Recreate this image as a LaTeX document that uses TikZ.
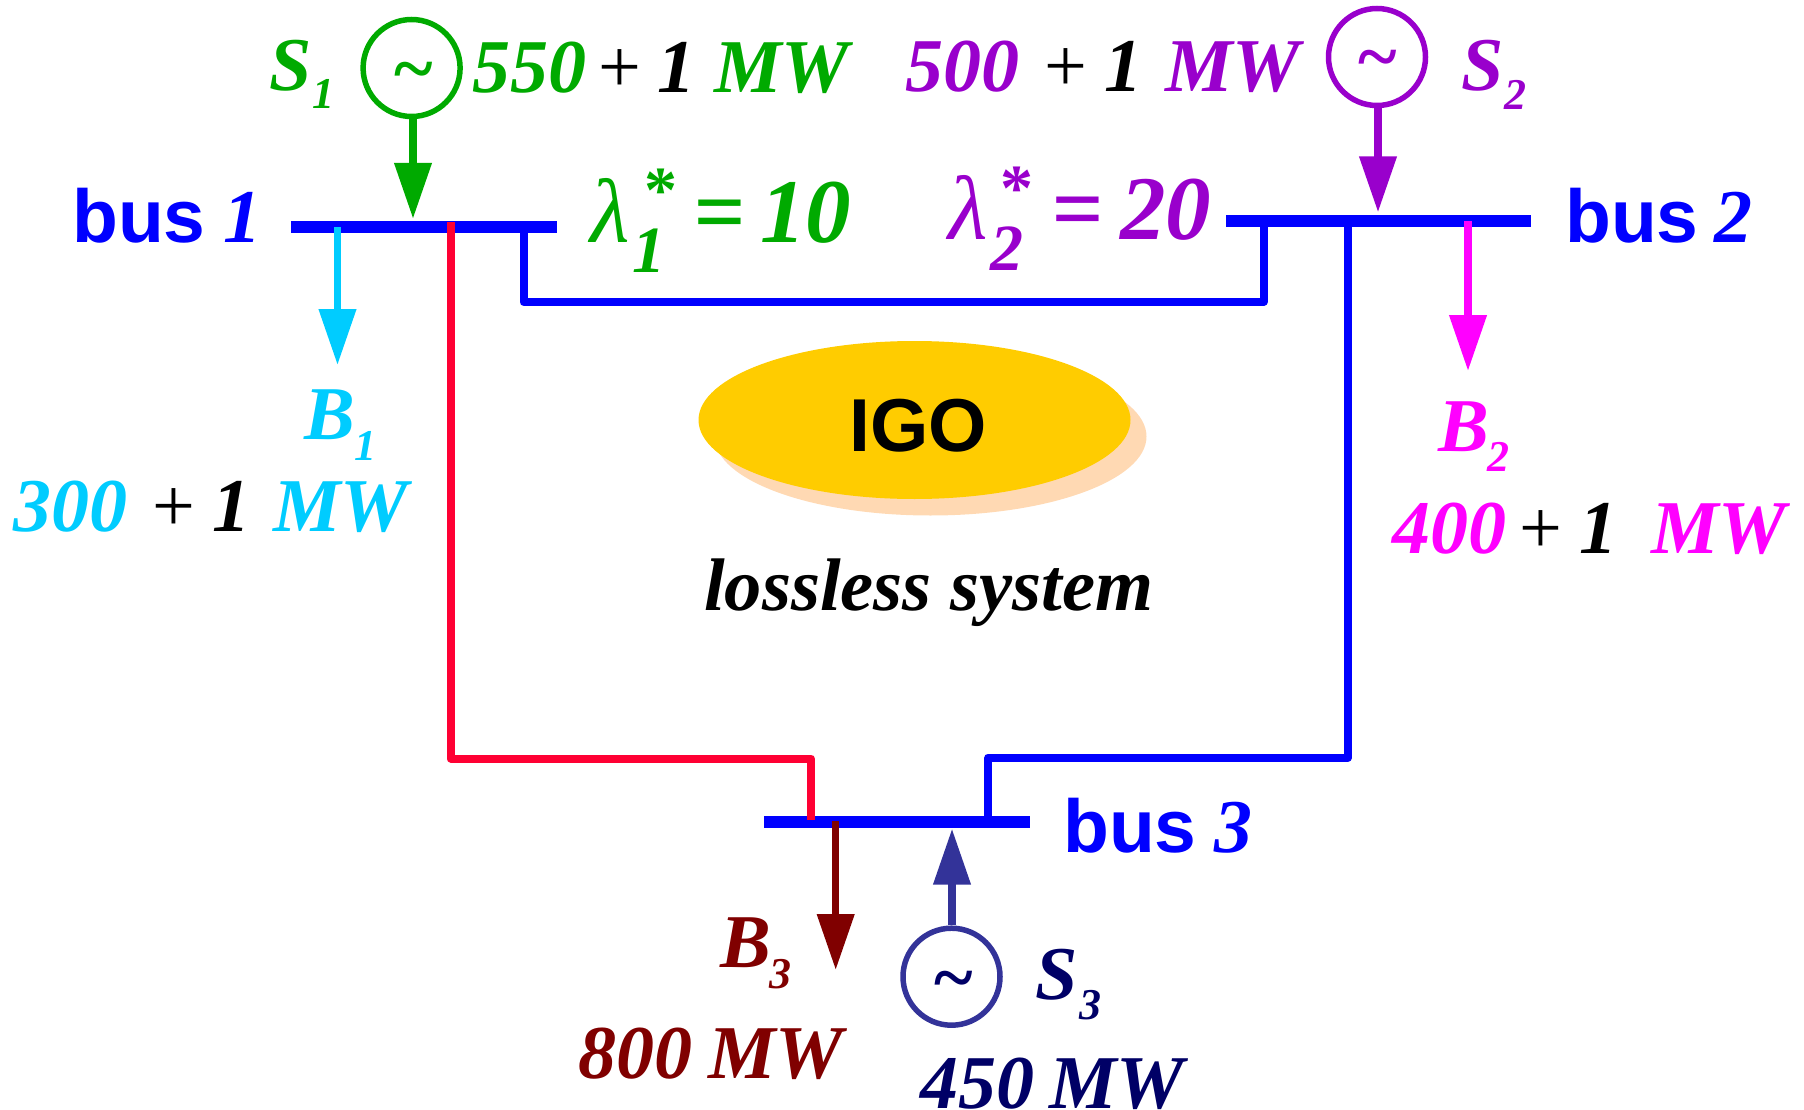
\documentclass[tikz,border=0pt]{standalone}
\usepackage{fontspec}
\usetikzlibrary{arrows.meta,shapes.geometric}
\setmainfont{Liberation Serif}
\newfontfamily\sansfam{Liberation Sans}
\definecolor{cgreen}{HTML}{00AA00}
\definecolor{cpurple}{HTML}{9900CC}
\definecolor{ccyan}{HTML}{00CCFF}
\definecolor{cmag}{HTML}{FF00FF}
\definecolor{cblue}{HTML}{0000FF}
\definecolor{cred}{HTML}{FF0033}
\definecolor{cdark}{HTML}{800000}
\definecolor{cgen}{HTML}{333399}
\definecolor{cnavy}{HTML}{000066}
\definecolor{cyel}{HTML}{FFCC00}
\definecolor{cpeach}{HTML}{FFD9B3}
\tikzset{
  lbl/.style={inner sep=0pt,anchor=base west},
  big/.style={lbl,font=\bfseries\itshape\fontsize{76}{80}\selectfont},
  subs/.style={lbl,font=\bfseries\itshape\fontsize{44}{50}\selectfont},
  lam/.style={lbl,font=\bfseries\itshape\fontsize{91}{95}\selectfont},
  lamthin/.style={lbl,font=\itshape\fontsize{91}{95}\selectfont},
  lamsub/.style={lbl,font=\bfseries\itshape\fontsize{66}{70}\selectfont},
  star/.style={lbl,font=\bfseries\fontsize{66}{70}\selectfont},
  plus/.style={lbl,black,font=\fontsize{76}{80}\selectfont},
  busname/.style={lbl,font=\sansfam\bfseries\fontsize{75}{80}\selectfont},
  busbar/.style={draw=none,fill=cblue,inner sep=0pt,minimum height=12pt},
  gen/.style={draw,circle,line width=5.5pt,minimum size=97pt,inner sep=0pt,outer sep=2.75pt},
  tild/.style={lbl,anchor=base,font=\bfseries\fontsize{74}{78}\selectfont},
  flow/.style={line width=7.5pt,-{Triangle[width=36pt,length=56pt]}},
  wire/.style={line width=8pt,line join=round}
}
\begin{document}
\begin{tikzpicture}[x=1pt,y=-1pt]
\useasboundingbox (0,0) rectangle (1804,1110);
% IGO
\node[draw=none,fill=cpeach,ellipse,minimum width=432pt,minimum height=158pt,inner sep=0pt] (igoshadow) at (930.5,436.5) {};
\node[draw=none,fill=cyel,ellipse,minimum width=432pt,minimum height=158pt,inner sep=0pt] (igo) at (914.5,420) {};
\node[lbl,anchor=base,font=\sansfam\bfseries\fontsize{75}{80}\selectfont] (igot) at (918.5,451) {IGO};
\node[lbl,font=\bfseries\itshape\fontsize{74.5}{80}\selectfont] (lossless) at (704,610) {lossless system};
% buses
\node[busbar,minimum width=266pt] (bus1) at (424,227) {};
\node[busbar,minimum width=305pt] (bus2) at (1378.5,221.5) {};
\node[busbar,minimum width=266pt] (bus3) at (897,821.5) {};
% tap coordinates
\coordinate (t1a) at (523.5,227);
\coordinate (t1b) at (450.6,222);
\coordinate (t1c) at (337.5,227);
\coordinate (t2a) at (1263.5,221);
\coordinate (t2b) at (1348,221);
\coordinate (t2c) at (1468,221);
\coordinate (t3a) at (811,820);
\coordinate (t3b) at (988.4,821);
\coordinate (t3c) at (835.7,821);
% lines
\draw[wire,cblue] (t1a) -- (t1a |- 0,302) -- (t2a |- 0,302) -- (t2a);
\draw[wire,cblue] (t2b) -- (t2b |- 0,757.5) -- (t3b |- 0,757.5) -- (t3b);
\draw[wire,cred] (t1b) -- (t1b |- 0,758.5) -- (t3a |- 0,758.5) -- (t3a);
% generators
\node[gen,cgreen] (s1) at (411.6,68) {};
\node[gen,cpurple] (s2) at (1377,57) {};
\node[gen,cgen] (s3) at (951.5,976.7) {};
\node[tild,cgreen] (til1) at (414,94) {\char`\~};
\node[tild,cpurple] (til2) at (1378,82) {\char`\~};
\node[tild,cnavy] (til3) at (954,1002) {\char`\~};
% flows
\coordinate (lb1) at (337.5,365);
\coordinate (lb2) at (1468,371);
\coordinate (lb3) at (835.7,970);
\draw[flow,cgreen] ([xshift=1.4pt]s1.south) -- ([xshift=1.4pt,yshift=2pt]s1.south |- bus1.north);
\draw[flow,cpurple] ([xshift=1pt]s2.south) -- ([xshift=1pt,yshift=3pt]s2.south |- bus2.north);
\draw[flow,cgen] ([xshift=.5pt]s3.north) -- ([xshift=.5pt,yshift=-1pt]s3.north |- bus3.south);
\draw[flow,ccyan] (t1c) -- (lb1);
\draw[flow,cmag] (t2c) -- (lb2);
\draw[flow,cdark] (t3c) -- (lb3);
% S1 text
\node[big,cgreen] (S1a) at (269,91) {S};
\node[subs,cgreen] (S1b) at (312,109) {1};
\node[big,cgreen] (S1c) at (472,93) {550};
\node[plus] (S1d) at (598,93) {+};
\node[big] (S1e) at (657,93) {1};
\node[big,cgreen] (S1f) at (714,93) {MW};
% S2 text
\node[big,cpurple] (S2c) at (905,92) {500};
\node[plus] (S2d) at (1044,92) {+};
\node[big] (S2e) at (1104,92) {1};
\node[big,cpurple] (S2f) at (1165,92) {MW};
\node[big,cpurple] (S2a) at (1461,91) {S};
\node[subs,cpurple] (S2b) at (1504,110) {2};
% bus labels
\node[busname,cblue] (b1n) at (72,242) {bus};
\node[big,cblue] (b1i) at (223,242) {1};
\node[busname,cblue] (b2n) at (1565,242) {bus};
\node[big,cblue] (b2i) at (1714,242) {2};
\node[busname,cblue] (b3n) at (1063,852) {bus};
\node[big,cblue] (b3i) at (1214,852) {3};
% lambda 1
\node[lamthin,cgreen] (l1a) at (590,242) {λ};
\node[lamsub,cgreen] (l1b) at (632,272) {1};
\node[star,cgreen] (l1s) at (644,212) {*};
\node[lam,cgreen,anchor=base] (l1c) at (719,242) {=};
\node[lam,cgreen] (l1d) at (760,242) {10};
% lambda 2
\node[lamthin,cpurple] (l2a) at (948,240) {λ};
\node[lamsub,cpurple] (l2b) at (990,270) {2};
\node[star,cpurple] (l2s) at (1000,211) {*};
\node[lam,cpurple,anchor=base] (l2c) at (1077,240) {=};
\node[lam,cpurple] (l2d) at (1120,240) {20};
% B1
\node[big,ccyan] (B1a) at (304,439) {B};
\node[subs,ccyan] (B1b) at (354,460) {1};
\node[big,ccyan] (B1c) at (13,531) {300};
\node[plus] (B1d) at (152,531) {+};
\node[big] (B1e) at (212,531) {1};
\node[big,ccyan] (B1f) at (273,531) {MW};
% B2
\node[big,cmag] (B2a) at (1438,451) {B};
\node[subs,cmag] (B2b) at (1487,471) {2};
\node[big,cmag] (B2c) at (1392,553) {400};
\node[plus] (B2d) at (1519,553) {+};
\node[big] (B2e) at (1579,553) {1};
\node[big,cmag] (B2f) at (1651,553) {MW};
% B3
\node[big,cdark] (B3a) at (720,967) {B};
\node[subs,cdark] (B3b) at (769,988) {3};
\node[big,cdark] (B3c) at (578,1078) {800};
\node[big,cdark] (B3f) at (708,1078) {MW};
% S3
\node[big,cnavy] (S3a) at (1035,999) {S};
\node[subs,cnavy] (S3b) at (1079,1019) {3};
\node[big,cnavy] (S3c) at (920,1108) {450};
\node[big,cnavy] (S3f) at (1049,1108) {MW};
\end{tikzpicture}
\end{document}
